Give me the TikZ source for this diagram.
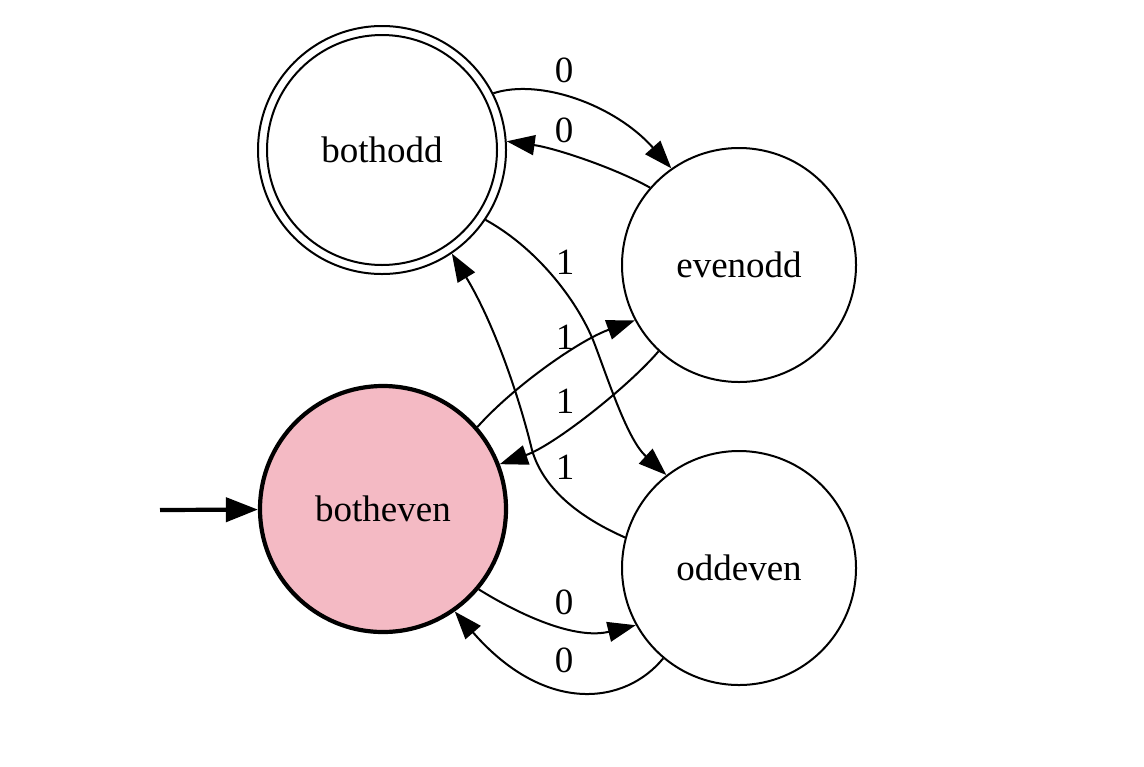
\documentclass[tikz,border=0pt]{standalone}
\usepackage{fontspec}
\setmainfont{Liberation Serif}
\usetikzlibrary{arrows.meta}

\definecolor{startpink}{RGB}{244,186,196}

\tikzset{
    statenode/.style={draw, circle, line width=1pt, inner sep=0pt,
        minimum size=117pt, font=\fontsize{18.5}{20}\selectfont},
    startstate/.style={statenode, fill=startpink, line width=2.1pt,
        minimum size=123pt},
    trans/.style={-{Triangle[length=14pt,width=10pt]}, line width=1pt},
    initarrow/.style={-{Triangle[length=16pt,width=12pt]}, line width=2.1pt},
    translabel/.style={font=\fontsize{18.5}{20}\selectfont, inner sep=1pt}
}

\begin{document}
\begin{tikzpicture}[x=0.5pt, y=-0.5pt]
    \useasboundingbox (0,0) rectangle (1144,766);

    % states
    \node[statenode, minimum size=124pt] (bothodd) at (382,150) {bothodd};
    \draw[line width=1pt] (bothodd.center) circle[radius=115];
    \node[statenode] (evenodd) at (739,265) {evenodd};
    \node[startstate] (botheven) at (383,509) {botheven};
    \node[statenode] (oddeven) at (739,568) {oddeven};

    % initial arrow
    \coordinate (init) at (160,510);
    \draw[initarrow] (init) -- (botheven);

    % transitions on 0
    \draw[trans] (bothodd.27) .. controls (540,78) and (615,105) .. (evenodd.125);
    \draw[trans] (evenodd.139) .. controls (615,168) and (555,148) .. (bothodd.4);
    \draw[trans] (botheven.-40) .. controls (520,615) and (575,640) .. (oddeven.-151);
    \draw[trans] (oddeven.-130) .. controls (625,705) and (545,715) .. (botheven.-55);

    % transitions on 1
    \draw[trans] (bothodd.-34) .. controls (540,250) and (580,305) .. (595,345)
        .. controls (610,385) and (628,440) .. (oddeven.128);
    \draw[trans] (oddeven.165) .. controls (590,522) and (545,495) .. (532,450)
        .. controls (520,400) and (495,325) .. (bothodd.-56);
    \draw[trans] (botheven.41) .. controls (515,385) and (580,340) .. (evenodd.-152);
    \draw[trans] (evenodd.-133) .. controls (630,385) and (555,445) .. (botheven.21);

    % labels
    \node[translabel] (l0a) at (564,70) {0};
    \node[translabel] (l0b) at (564,130) {0};
    \node[translabel] (l1a) at (565,262) {1};
    \node[translabel] (l1b) at (565,337) {1};
    \node[translabel] (l1c) at (565,401) {1};
    \node[translabel] (l1d) at (565,467) {1};
    \node[translabel] (l0c) at (564,602) {0};
    \node[translabel] (l0d) at (564,660) {0};
\end{tikzpicture}
\end{document}
